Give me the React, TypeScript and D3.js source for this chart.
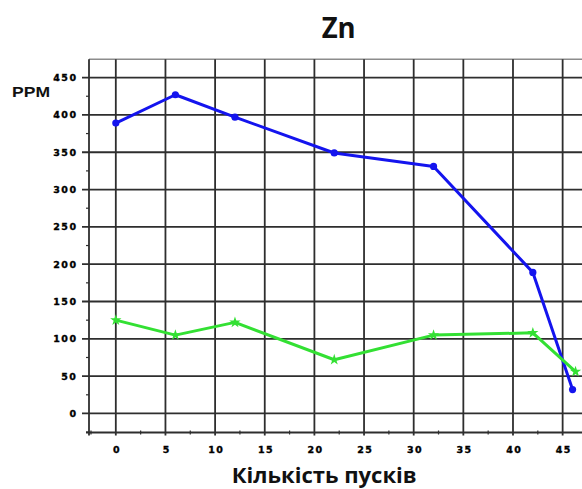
import React from "react";
import * as d3 from "d3";

const W = 582;
const H = 489;

// Zn concentration vs. number of starts
const blueRuns = [0, 6, 12, 22, 32, 42, 46];
const blueValues = [389, 427, 397, 349, 331, 189, 32];
const greenRuns = [0, 6, 12, 22, 32, 42, 46.3];
const greenValues = [125, 105, 122, 72, 105, 108, 56];

const xTicks = [0, 5, 10, 15, 20, 25, 30, 35, 40, 45];
const xMinorTicks = [-2.5, 2.5, 7.5, 12.5, 17.5, 22.5, 27.5, 32.5, 37.5, 42.5];
const yTicks = [0, 50, 100, 150, 200, 250, 300, 350, 400, 450];
const yMinorTicks = [-25, 25, 75, 125, 175, 225, 275, 325, 375, 425];

const title = "Zn";
const yTitle = "PPM";
const xTitle = "Кількість пусків";

const left = 89;
const top = 59.3;
const bottom = 432.5;

const x = d3.scaleLinear().domain([-2.7, 46.95]).range([left, W]);
const y = d3.scaleLinear().domain([-25.5, 474.5]).range([bottom, top]);

const gridColor = "#2e2e2e";
const blue = "#1414ee";
const green = "#33e033";

export default function App() {
  const blueLine = d3
    .line<number>()
    .x((_, i) => x(blueRuns[i]))
    .y((d) => y(d));
  const greenLine = d3
    .line<number>()
    .x((_, i) => x(greenRuns[i]))
    .y((d) => y(d));
  const star = d3.symbol().type(d3.symbolStar).size(40)();

  const tickFont = {
    fontFamily: "DejaVu Sans, Verdana, sans-serif",
    fontWeight: 700,
    fontSize: 9.5,
    letterSpacing: 1.4,
    stroke: "#000",
    strokeWidth: 0.35,
  } as const;

  return (
    <div style={{ position: "fixed", left: 0, top: 0 }}>
      <svg width={W} height={H} style={{ display: "block", background: "#fff" }}>
        {/* top frame */}
        <line x1={left} x2={W} y1={top} y2={top} stroke="#8c8c8c" strokeWidth={1.5} />

        {/* horizontal grid lines, extended left as tick marks */}
        {yTicks.map((t) => (
          <line key={"gy" + t} x1={left - 7} x2={W} y1={y(t)} y2={y(t)} stroke={gridColor} strokeWidth={1.8} />
        ))}
        {/* vertical grid lines, extended down as tick marks */}
        {xTicks.map((t) => (
          <line key={"gx" + t} x1={x(t)} x2={x(t)} y1={top} y2={bottom + 3} stroke={gridColor} strokeWidth={1.8} />
        ))}

        {/* axes */}
        <line x1={left} x2={left} y1={top} y2={bottom + 3} stroke={gridColor} strokeWidth={1.8} />
        <line x1={left - 3} x2={W} y1={bottom} y2={bottom} stroke={gridColor} strokeWidth={1.8} />

        {/* minor ticks */}
        {yMinorTicks.map((t) => (
          <line key={"my" + t} x1={left - 3} x2={left} y1={y(t)} y2={y(t)} stroke={gridColor} strokeWidth={1.2} />
        ))}
        {xMinorTicks.map((t) => (
          <line key={"mx" + t} x1={x(t)} x2={x(t)} y1={bottom - 2} y2={bottom + 2} stroke={gridColor} strokeWidth={1.2} />
        ))}

        {/* tick labels (trailing letter-spacing offset compensated) */}
        {yTicks.map((t) => (
          <text key={"ly" + t} x={77.4} y={y(t) + 3.4} textAnchor="end" {...tickFont} fill="#000">
            {t}
          </text>
        ))}
        {xTicks.map((t) => (
          <text key={"lx" + t} x={x(t) + 1.2} y={452.8} textAnchor="middle" {...tickFont} fill="#000">
            {t}
          </text>
        ))}

        {/* series */}
        <path d={blueLine(blueValues) ?? ""} fill="none" stroke={blue} strokeWidth={3} strokeLinejoin="round" />
        {blueValues.map((v, i) => (
          <circle key={"bp" + i} cx={x(blueRuns[i])} cy={y(v)} r={3.6} fill={blue} />
        ))}
        <path d={greenLine(greenValues) ?? ""} fill="none" stroke={green} strokeWidth={3} strokeLinejoin="round" />
        {greenValues.map((v, i) => (
          <path key={"gp" + i} d={star ?? ""} transform={`translate(${x(greenRuns[i])},${y(v)})`} fill={green} />
        ))}

        {/* titles */}
        <text
          x={321.7}
          y={38.3}
          textLength={34}
          lengthAdjust="spacingAndGlyphs"
          fontFamily="Open Sans, sans-serif"
          fontWeight={700}
          fontSize={28}
          fill="#111"
        >
          {title}
        </text>
        <text
          x={12}
          y={97.3}
          textLength={38}
          lengthAdjust="spacingAndGlyphs"
          fontFamily="Liberation Sans, Arial, sans-serif"
          fontWeight={700}
          fontSize={14.5}
          fill="#111"
        >
          {yTitle}
        </text>
        <text
          x={231.7}
          y={482.7}
          textLength={185}
          lengthAdjust="spacingAndGlyphs"
          fontFamily="Open Sans, sans-serif"
          fontWeight={700}
          fontSize={22}
          fill="#111"
        >
          {xTitle}
        </text>
      </svg>
    </div>
  );
}
